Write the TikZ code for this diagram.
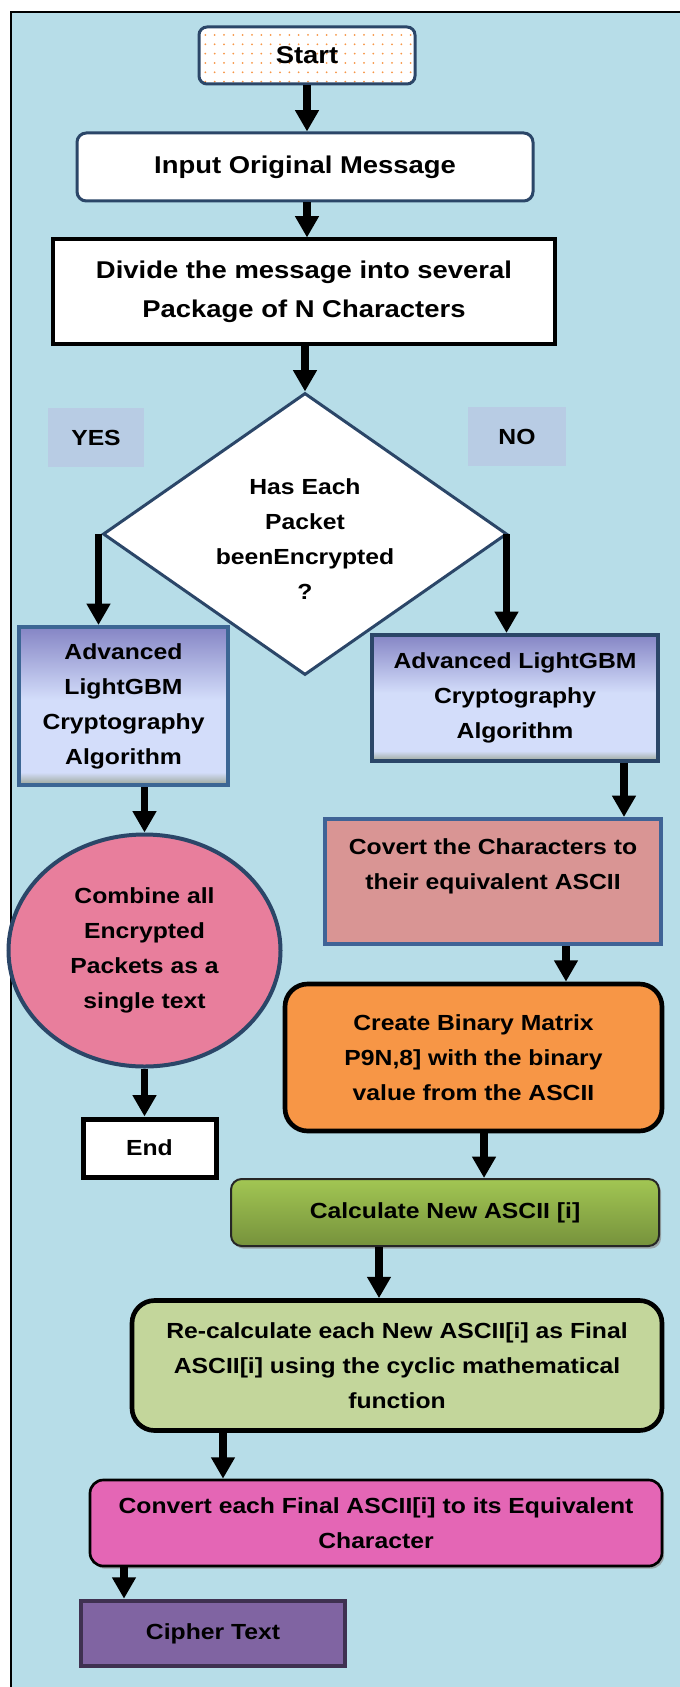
\documentclass[tikz,border=0pt]{standalone}
\usepackage{fontspec}
\setmainfont{Liberation Sans}[FakeStretch=1.13]
\usetikzlibrary{shapes.geometric,arrows.meta,patterns.meta,shadows}
\definecolor{bgblue}{HTML}{B7DDE8}
\definecolor{navy}{HTML}{2B4668}
\definecolor{midblue}{HTML}{3C6694}
\definecolor{labbox}{HTML}{B8CCE4}
\definecolor{advtop}{HTML}{8585C5}
\definecolor{advlight}{HTML}{D3DDFA}
\definecolor{advbot}{HTML}{9AA596}
\definecolor{covfill}{HTML}{D99594}
\definecolor{covedge}{HTML}{3F6396}
\definecolor{ellfill}{HTML}{E87E9C}
\definecolor{orfill}{HTML}{F79646}
\definecolor{gtop}{HTML}{A2C653}
\definecolor{gbot}{HTML}{76923C}
\definecolor{lgreen}{HTML}{C3D69B}
\definecolor{magfill}{HTML}{E466B5}
\definecolor{purfill}{HTML}{8064A2}
\definecolor{puredge}{HTML}{3F3151}
\definecolor{dotorange}{HTML}{F79646}
\pgfdeclareverticalshading{advshade}{100bp}{color(0bp)=(advbot); color(25bp)=(advbot); color(29bp)=(advlight); color(52bp)=(advlight); color(75bp)=(advtop); color(100bp)=(advtop)}
\begin{document}
\begin{tikzpicture}[x=0.75pt,y=-0.75pt,
  txt/.style={font=\bfseries\fontsize{16.4}{26.25}\selectfont, align=center, inner sep=0pt, text=black},
  bigtxt/.style={font=\bfseries\fontsize{18.2}{26.25}\selectfont, align=center, inner sep=0pt, text=black},
  arr/.style={line width=5.5pt, -{Triangle[width=17pt,length=16pt]}, black},
  advbox/.style={txt, shading=advshade, line width=3pt, minimum width=#1},
  shadowed/.style={drop shadow={shadow xshift=1.6pt, shadow yshift=-2pt, fill=black!45, opacity=0.7}}]
\useasboundingbox (0,0) rectangle (680,1687);
\fill[white] (0,0) rectangle (680,1687);
\fill[bgblue] (11,12) rectangle (680,1687);
\draw[black, line width=1.7pt] (11,1687) -- (11,12) -- (680,12);

% nodes
\node[bigtxt, draw=navy, line width=2.25pt, rounded corners=6pt, preaction={fill=white},
      pattern={Dots[distance=7pt, radius=0.75pt]}, pattern color=dotorange,
      minimum width=162pt, minimum height=42.75pt] (start) at (307,55.5) {Start};
\node[bigtxt, draw=navy, fill=white, line width=2.25pt, rounded corners=7pt,
      minimum width=342pt, minimum height=51pt] (input) at (305,167) {Input Original Message};
\node[bigtxt, font=\bfseries\fontsize{18.2}{29.25}\selectfont, draw=black, fill=white, line width=3pt,
      minimum width=376.5pt, minimum height=78pt] (divide) at (304,291.5) {Divide the message into several\\Package of N Characters};

\node[diamond, draw=navy, fill=white, line width=2.25pt, inner sep=0pt,
      minimum width=303pt, minimum height=211.5pt] (dec) at (305,534) {};
\node[txt] (dect) at (305,539) {Has Each\\Packet\\beenEncrypted\\?};

\node[txt, fill=labbox, minimum width=72pt, minimum height=44.25pt] (yes) at (96,437.5) {YES};
\node[txt, fill=labbox, minimum width=73.5pt, minimum height=44.25pt] (no) at (517,436.5) {NO};

\node[advbox=156.75pt, draw=midblue, minimum height=118.5pt] (advL) at (123.5,706)
  {Advanced\\LightGBM\\Cryptography\\Algorithm};
\node[advbox=214.5pt, draw=navy, minimum height=94.5pt] (advR) at (515,698)
  {Advanced LightGBM\\Cryptography\\Algorithm};

\node[txt, ellipse, draw=navy, fill=ellfill, line width=3pt,
      minimum width=204pt, minimum height=174pt] (combine) at (144.5,950.5)
  {Combine all\\Encrypted\\Packets as a\\single text};
\node[txt, draw=black, fill=white, line width=3.75pt,
      minimum width=99.75pt, minimum height=43.5pt] (end) at (149.5,1148) {End};

\node[txt, draw=covedge, fill=covfill, line width=3pt,
      minimum width=252pt, minimum height=93.75pt] (covert) at (493,881.5)
  {Covert the Characters to\\their equivalent ASCII\\~};
\node[txt, draw=black, fill=orfill, line width=3.5pt, rounded corners=17pt,
      minimum width=282.75pt, minimum height=110.25pt] (create) at (473.5,1057.5)
  {Create Binary Matrix\\P9N,8] with the binary\\value from the ASCII};
\node[txt, shadowed, draw=black!85, top color=gtop, bottom color=gbot, line width=1.5pt, rounded corners=8pt,
      minimum width=321pt, minimum height=50.25pt] (calc) at (445,1212.5)
  {Calculate New ASCII [i]};
\node[txt, draw=black, fill=lgreen, line width=3.5pt, rounded corners=17pt,
      minimum width=397.5pt, minimum height=97.5pt] (recalc) at (397,1365.5)
  {Re-calculate each New ASCII[i] as Final\\ASCII[i] using the cyclic mathematical\\function};
\node[txt, shadowed, draw=black, fill=magfill, line width=2pt, rounded corners=10pt,
      minimum width=429pt, minimum height=64.5pt] (convert) at (376,1523)
  {Convert each Final ASCII[i] to its Equivalent\\Character};
\node[txt, draw=puredge, fill=purfill, line width=3.5pt,
      minimum width=198pt, minimum height=48.75pt] (cipher) at (213,1633.5) {Cipher Text};

% connectors
\draw[arr] (start.south) -- (start.south |- input.north);
\draw[arr] (start.south |- input.south) -- (start.south |- divide.north);
\draw[arr] (dec.north |- divide.south) -- (dec.north);
\draw[arr] ([xshift=-2.25pt]dec.west) -- ([xshift=-2.25pt]dec.west |- advL.north);
\draw[arr] ([xshift=-1.5pt]dec.east) -- ([xshift=-1.5pt]dec.east |- advR.north);
\draw[arr] (advL.south -| combine.north) -- (combine.north);
\draw[arr] (combine.south) -- (combine.south |- end.north);
\draw[arr] ([xshift=81.75pt]advR.south) -- ([xshift=81.75pt]advR.south |- covert.north);
\draw[arr] ([xshift=54.75pt]covert.south) -- ([xshift=54.75pt]covert.south |- create.north);
\draw[arr] ([xshift=7.9pt]create.south) -- ([xshift=7.9pt]create.south |- calc.north);
\draw[arr] ([xshift=-49.5pt]calc.south) -- ([xshift=-49.5pt]calc.south |- recalc.north);
\draw[arr] ([xshift=-130.5pt]recalc.south) -- ([xshift=-130.5pt]recalc.south |- convert.north);
\draw[arr] ([xshift=-189pt]convert.south) -- ([xshift=-189pt]convert.south |- cipher.north);
\end{tikzpicture}
\end{document}
